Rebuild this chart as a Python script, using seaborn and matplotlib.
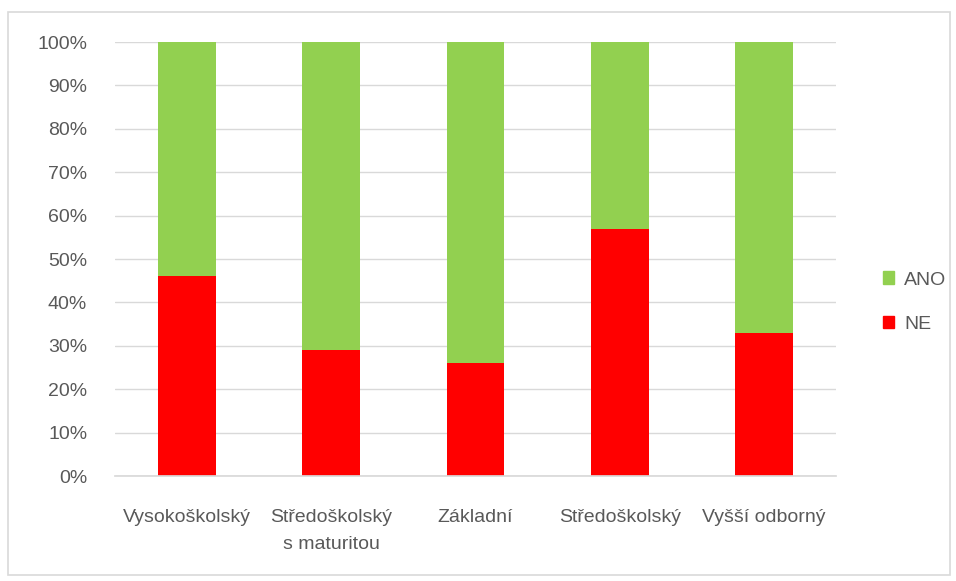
import matplotlib
matplotlib.use("Agg")
import matplotlib.pyplot as plt
import seaborn as sns
import pandas as pd
from matplotlib.patches import Rectangle, Patch
from matplotlib.ticker import PercentFormatter

categories = ["Vysokoškolský", "Středoškolský\ns maturitou", "Základní", "Středoškolský", "Vyšší odborný"]
ne_values = [46, 29, 26, 57, 33]
ano_values = [54, 71, 74, 43, 67]

sns.set_theme(style="white")
plt.rcParams['font.family'] = ['Liberation Sans', 'DejaVu Sans']

df = pd.DataFrame({"kat": categories, "NE": ne_values, "ANO": ano_values})
df["total"] = df["NE"] + df["ANO"]

fig = plt.figure(figsize=(9.56, 5.81), dpi=100)
ax = fig.add_axes([0.1203, 0.1807, 0.7542, 0.747])

green = "#92D050"
red = "#FF0000"
sns.barplot(data=df, x="kat", y="total", color=green, width=0.4, ax=ax, saturation=1, linewidth=0)
sns.barplot(data=df, x="kat", y="NE", color=red, width=0.4, ax=ax, saturation=1, linewidth=0)

ax.set_ylim(0, 100)
ax.set_xlim(-0.5, 4.5)
ax.set_yticks(range(0, 101, 10))
ax.yaxis.set_major_formatter(PercentFormatter(decimals=0))
ax.set_xlabel("")
ax.set_ylabel("")
ax.grid(axis="y", color="#D9D9D9", linewidth=1)
ax.set_axisbelow(True)
for s in ["top", "right", "left"]:
    ax.spines[s].set_visible(False)
ax.spines["bottom"].set_color("#D9D9D9")
ax.tick_params(axis="both", length=0, labelsize=14, colors="#595959")
ax.tick_params(axis="x", pad=24)
ax.tick_params(axis="y", pad=20)
for lbl in ax.get_xticklabels():
    lbl.set_linespacing(1.75)

handles = [Patch(color=green, label="ANO"), Patch(color=red, label="NE")]
fig.legend(handles=handles, loc="center left", bbox_to_anchor=(0.905, 0.48),
           frameon=False, fontsize=14, labelcolor="#595959", handlelength=0.6,
           handleheight=0.6, handletextpad=0.5, labelspacing=1.4)

fig.patches.append(Rectangle((8/956, 1-575/581), 942/956, 563/581, transform=fig.transFigure,
                             fill=False, edgecolor="#D9D9D9", linewidth=1.2))

fig.savefig("out.png", dpi=100)
